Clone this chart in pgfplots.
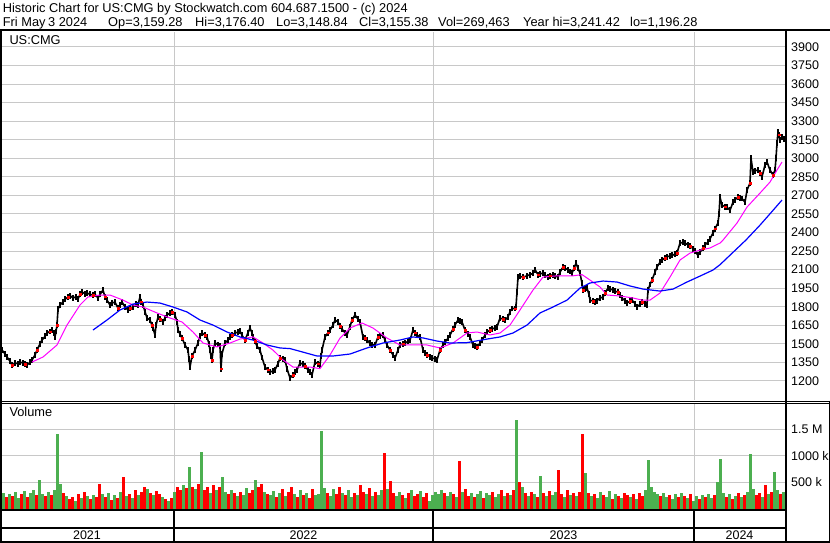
\documentclass[border=0pt]{standalone}
\usepackage{pgfplots}
\pgfplotsset{compat=1.18}
\usepackage{pgfplotstable}
\usepackage{fontspec}
\setmainfont{Liberation Sans}

\definecolor{gridgray}{RGB}{200,200,200}
\definecolor{volgreen}{RGB}{76,175,80}
\definecolor{volred}{RGB}{255,0,0}
\definecolor{mamag}{RGB}{255,0,255}
\definecolor{mablue}{RGB}{0,0,255}

% x = trading day from start of window (May 2021), 2022/2023/2024 start at 174/433/694
\pgfplotstableread{
day price
0 1430
2 1450
5 1420
7 1394
10 1360
12 1329
15 1345
18 1340
20 1353
23 1345
25 1335
27 1330
30 1350
32 1370
35 1410
37 1450
40 1500
42 1531
45 1560
47 1588
50 1600
52 1612
54 1590
55 1556
56 1600
57 1652
58 1780
60 1814
63 1838
65 1860
68 1879
70 1890
73 1871
76 1880
78 1863
80 1900
82 1919
85 1905
87 1911
90 1900
93 1895
95 1900
98 1871
100 1900
103 1935
105 1880
107 1854
110 1814
112 1830
115 1838
118 1790
120 1815
122 1838
125 1800
128 1774
130 1790
133 1798
136 1820
138 1814
140 1879
141 1840
143 1814
145 1760
147 1709
150 1693
152 1650
153 1628
155 1572
156 1650
158 1717
160 1700
163 1677
165 1710
167 1733
170 1750
172 1758
175 1733
177 1680
178 1612
180 1580
182 1547
185 1491
188 1450
189 1380
190 1313
192 1400
195 1450
198 1507
200 1560
202 1588
205 1570
207 1556
209 1500
210 1450
211 1400
212 1370
213 1450
215 1507
218 1495
220 1482
221 1300
222 1420
225 1507
228 1530
230 1556
232 1570
235 1588
238 1595
240 1604
242 1570
245 1531
248 1590
250 1628
252 1590
253 1556
255 1520
257 1482
260 1450
262 1390
265 1313
268 1290
270 1273
273 1280
275 1290
278 1340
280 1386
283 1380
285 1370
287 1300
290 1224
293 1248
295 1270
297 1290
300 1345
303 1335
305 1320
308 1290
310 1270
312 1248
315 1353
318 1340
320 1330
321 1400
322 1450
325 1556
328 1590
330 1612
333 1650
335 1693
338 1677
340 1645
342 1620
345 1590
347 1572
350 1640
352 1693
355 1733
358 1700
360 1677
363 1556
365 1545
367 1531
370 1505
372 1491
375 1491
378 1556
380 1565
383 1572
385 1530
387 1491
390 1450
393 1410
395 1386
398 1450
400 1491
403 1500
405 1507
408 1520
410 1531
413 1612
415 1590
417 1572
420 1556
423 1450
425 1430
427 1410
430 1395
432 1386
435 1380
437 1370
440 1450
443 1490
445 1515
448 1545
450 1572
453 1620
455 1653
458 1693
460 1685
462 1677
465 1612
468 1580
470 1556
473 1491
475 1480
477 1475
480 1505
482 1531
485 1570
487 1596
490 1610
492 1620
495 1630
497 1637
500 1709
503 1700
505 1693
508 1718
510 1760
512 1786
515 1786
516 1800
517 1919
518 2040
520 2045
523 2040
527 2050
530 2060
533 2070
535 2100
538 2060
540 2066
543 2072
545 2055
548 2040
550 2050
553 2060
555 2050
558 2040
560 2080
563 2121
565 2110
568 2100
570 2085
572 2072
574 2110
576 2153
578 2110
580 2072
582 1990
583 1935
585 1945
587 1951
589 1900
590 1854
593 1845
595 1838
597 1850
600 1870
603 1879
605 1910
608 1951
610 1945
613 1935
615 1925
618 1919
620 1895
622 1870
625 1850
627 1830
630 1845
632 1854
635 1825
637 1798
640 1820
642 1838
645 1825
647 1814
648 1935
650 1980
652 2016
655 2080
657 2121
660 2160
662 2178
665 2195
667 2205
670 2210
672 2215
675 2225
677 2234
680 2315
683 2320
685 2315
688 2300
690 2290
693 2270
695 2250
698 2215
700 2240
703 2275
705 2300
708 2323
710 2350
713 2396
715 2430
718 2477
719 2550
720 2687
722 2620
725 2610
727 2605
730 2580
733 2645
735 2665
738 2687
740 2680
742 2675
745 2645
747 2743
750 2800
751 3002
753 2889
755 2900
758 2905
760 2880
762 2850
765 2946
767 2970
770 2905
773 2865
775 2905
776 3000
777 3123
778 3212
779 3190
780 3148
782 3170
784 3155
}\pricedata

\pgfplotstableread{
day ma
32 1353
43 1394
57 1491
67 1652
80 1814
88 1879
100 1895
110 1895
123 1854
133 1814
143 1798
157 1750
170 1709
182 1677
193 1596
203 1507
217 1475
230 1507
240 1539
253 1556
263 1507
273 1450
283 1370
293 1313
310 1313
320 1300
330 1410
340 1547
350 1628
362 1669
373 1628
387 1547
400 1491
427 1491
440 1467
453 1507
467 1588
477 1596
490 1572
500 1588
510 1652
520 1774
533 1935
543 2040
557 2050
573 2050
582 2060
590 2016
600 1960
607 1895
620 1887
633 1871
642 1854
650 1854
660 1911
670 2040
680 2178
690 2234
700 2258
710 2275
720 2315
723 2339
737 2477
747 2606
760 2719
770 2808
777 2905
782 2970
}\magdata

\pgfplotstableread{
day ma
93 1612
107 1693
120 1774
133 1822
147 1838
160 1830
173 1798
187 1758
200 1693
213 1652
227 1596
240 1556
253 1531
267 1491
280 1467
290 1462
300 1440
317 1402
333 1402
350 1418
367 1467
383 1507
400 1531
413 1556
423 1548
437 1523
450 1507
467 1510
487 1539
500 1556
513 1588
527 1652
540 1750
553 1798
567 1854
580 1951
590 1992
603 2008
617 2000
630 1968
643 1943
660 1927
673 1943
687 2000
700 2048
713 2097
720 2140
733 2240
746 2340
760 2460
772 2570
782 2663
}\bluedata

% volume in thousands of shares
\pgfplotstableread{
day vol
3.5 310
9.5 290
15.5 330
18.5 200
24.5 340
30.5 300
33.5 350
39.5 540
42.5 290
48.5 320
54.5 350
57.5 1420
60.5 470
66.5 250
75.5 160
81.5 210
87.5 250
93.5 270
102.5 280
108.5 300
114.5 260
120.5 330
126.5 240
132.5 200
138.5 270
147.5 380
153.5 260
162.5 220
168.5 150
174.5 330
183.5 450
189.5 800
195.5 380
201.5 1080
210.5 300
216.5 350
222.5 610
225.5 320
231.5 360
237.5 250
243.5 270
246.5 390
255.5 540
264.5 330
270.5 260
273.5 340
279.5 300
285.5 250
294.5 280
300.5 350
306.5 310
315.5 260
318.5 290
321.5 1480
324.5 400
330.5 250
333.5 370
342.5 310
348.5 350
351.5 230
357.5 270
366.5 280
372.5 240
378.5 260
381.5 350
387.5 380
396.5 240
399.5 330
405.5 200
411.5 360
420.5 340
429.5 160
432.5 260
435.5 320
438.5 280
441.5 350
447.5 250
450.5 330
456.5 220
462.5 320
471.5 300
477.5 280
480.5 340
486.5 310
489.5 260
495.5 220
498.5 290
504.5 240
510.5 270
516.5 1680
522.5 420
528.5 250
534.5 280
540.5 620
546.5 250
552.5 270
555.5 320
564.5 220
570.5 260
576.5 240
585.5 680
591.5 250
597.5 200
600.5 320
606.5 220
609.5 340
615.5 290
621.5 200
630.5 230
636.5 190
645.5 360
648.5 920
651.5 420
654.5 330
657.5 280
663.5 300
666.5 220
672.5 190
675.5 280
681.5 300
687.5 200
693.5 160
696.5 240
702.5 270
708.5 290
711.5 200
717.5 500
720.5 940
723.5 300
729.5 280
735.5 250
741.5 220
747.5 330
750.5 1030
753.5 380
762.5 220
768.5 280
774.5 700
777.5 350
783.5 320
}\volup

\pgfplotstableread{
day vol
0.5 260
6.5 220
12.5 250
21.5 280
27.5 230
36.5 270
45.5 240
51.5 260
63.5 300
69.5 180
72.5 230
78.5 280
84.5 320
90.5 190
96.5 230
99.5 480
105.5 220
111.5 170
117.5 210
123.5 600
129.5 290
135.5 350
141.5 320
144.5 420
150.5 300
156.5 340
159.5 290
165.5 180
171.5 200
177.5 410
180.5 360
186.5 400
192.5 420
198.5 470
204.5 360
207.5 420
213.5 450
219.5 410
228.5 280
234.5 300
240.5 330
249.5 310
252.5 360
258.5 420
261.5 470
267.5 290
276.5 220
282.5 380
288.5 320
291.5 410
297.5 230
303.5 270
309.5 200
312.5 380
327.5 300
336.5 290
339.5 420
345.5 260
354.5 300
360.5 460
363.5 330
369.5 390
375.5 320
384.5 1060
390.5 520
393.5 300
402.5 270
408.5 310
414.5 250
417.5 290
423.5 220
426.5 300
444.5 300
453.5 280
459.5 900
465.5 380
468.5 250
474.5 230
483.5 200
492.5 330
501.5 350
507.5 300
513.5 360
519.5 500
525.5 300
531.5 330
537.5 220
543.5 300
549.5 340
558.5 740
561.5 280
567.5 350
573.5 300
579.5 330
582.5 1420
588.5 300
594.5 280
603.5 260
612.5 180
618.5 240
624.5 310
627.5 260
633.5 280
639.5 300
642.5 250
660.5 240
669.5 260
678.5 230
684.5 250
690.5 280
699.5 180
705.5 220
714.5 260
726.5 230
732.5 190
738.5 300
744.5 270
756.5 260
759.5 300
765.5 460
771.5 330
780.5 280
}\voldown

\pgfplotsset{
  chartpanel/.style={
    anchor=south west, scale only axis, width=785pt,
    xmin=0, xmax=785, enlargelimits=false,
    axis line style={draw=none}, major tick length=0pt,
    xtick={174,433,694}, xticklabels={},
    xmajorgrids, ymajorgrids,
    grid style={gridgray, line width=1pt},
    yticklabel pos=right,
    yticklabel style={anchor=west, inner sep=0pt, xshift=6pt,
      font=\fontsize{12.5}{14}\selectfont},
    /pgf/number format/1000 sep={},
    /pgf/number format/assume math mode=true,
  },
}

\begin{document}
\begin{tikzpicture}
\fill[white] (0pt,0pt) rectangle (830pt,543pt);
\useasboundingbox (0pt,0pt) rectangle (830pt,543pt);

% price panel
\begin{axis}[chartpanel, at={(0pt,143pt)}, height=368pt,
  ymin=1046.4, ymax=4021.2, ytick={1200,1350,...,3900}]
% daily high-low range drawn as short vertical strokes
\addplot[black, line width=1.6pt, line join=miter, miter limit=2,
  error bars/.cd, y dir=both, y fixed=24,
  error mark=none, error bar style={line width=1.3pt}]
  table[x=day, y=price] {\pricedata};
\addplot[only marks, red, mark=square*, mark size=0.8pt, each nth point=5]
  table[x=day, y=price] {\pricedata};
\addplot[mamag, line width=1pt] table[x=day, y=ma] {\magdata};
\addplot[mablue, line width=1.2pt] table[x=day, y=ma] {\bluedata};
\end{axis}

% volume panel
\begin{axis}[chartpanel, at={(0pt,34pt)}, height=106pt,
  ymin=0, ymax=2000, ytick={500,1000,1500},
  yticklabels={500 k,1000 k,1.5 M}]
\addplot[ycomb, volgreen, line width=2.2pt] table[x=day, y=vol] {\volup};
\addplot[ycomb, volred, line width=2.2pt] table[x=day, y=vol] {\voldown};
\end{axis}

% frame
\draw[line width=2pt] (0pt,512.5pt) -- (830pt,512.5pt);
\draw[line width=2pt] (1pt,512.5pt) -- (1pt,0pt);
\draw[line width=1pt] (829.5pt,142pt) -- (829.5pt,0pt);
\draw[line width=2pt] (785.5pt,513.5pt) -- (785.5pt,0pt);
\draw[line width=1pt] (0pt,141.8pt) -- (830pt,141.8pt);
\draw[line width=1pt] (0pt,139.8pt) -- (830pt,139.8pt);
\draw[line width=2pt] (0pt,33.2pt) -- (786.5pt,33.2pt);
\draw[line width=2pt] (0pt,15.3pt) -- (786.5pt,15.3pt);
\draw[line width=2pt] (0pt,1pt) -- (830pt,1pt);
\foreach \xx in {174,433,694} \draw[line width=2pt] (\xx pt,33.2pt) -- (\xx pt,0pt);

% year labels
\begin{scope}[every node/.style={anchor=base, inner sep=0pt, font=\fontsize{12.5}{14}\selectfont}]
\node at (87pt,3.5pt) {2021};
\node at (303.5pt,3.5pt) {2022};
\node at (563.5pt,3.5pt) {2023};
\node at (739.5pt,3.5pt) {2024};
\end{scope}

% header and panel titles
\begin{scope}[every node/.style={anchor=base west, inner sep=0pt, font=\fontsize{12.8}{14}\selectfont}]
\node at (2.7pt,530.5pt) {Historic Chart for US:CMG by Stockwatch.com 604.687.1500 - (c) 2024};
\node at (2.7pt,516.5pt) {Fri May};
\node at (48pt,516.5pt) {3 2024};
\node at (108pt,516.5pt) {Op=3,159.28};
\node at (195pt,516.5pt) {Hi=3,176.40};
\node at (276pt,516.5pt) {Lo=3,148.84};
\node at (359pt,516.5pt) {Cl=3,155.38};
\node at (438pt,516.5pt) {Vol=269,463};
\node at (523pt,516.5pt) {Year hi=3,241.42};
\node at (630pt,516.5pt) {lo=1,196.28};
\node at (9.3pt,498pt) {US:CMG};
\node at (9.3pt,126pt) {Volume};
\end{scope}
\end{tikzpicture}
\end{document}
